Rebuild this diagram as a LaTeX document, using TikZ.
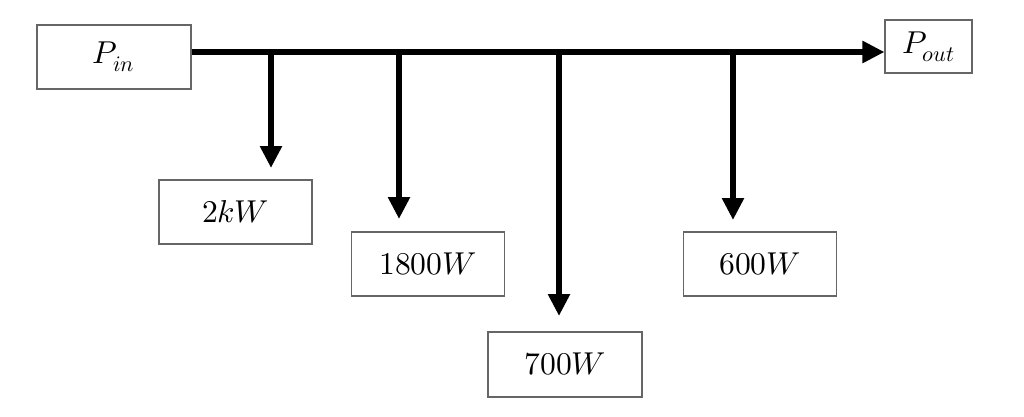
\documentclass[tikz,border=0pt]{standalone}
\usepackage{amsmath,amssymb}
\usepackage{unicode-math}
\setmathfont{Latin Modern Math}
\usetikzlibrary{arrows.meta,positioning,calc}
\definecolor{boxline}{HTML}{666666}
\tikzset{
  loadbox/.style={draw=boxline,line width=0.6pt,fill=white,minimum width=3.06cm,
    minimum height=1.28cm,inner sep=0pt,font=\fontsize{18}{21}\selectfont},
  bus/.style={line width=3.4pt,draw=black},
  flow/.style={bus,-{Triangle[length=0.44cm,width=0.42cm]}},
}

\begin{document}
\begin{tikzpicture}
    \useasboundingbox (0,0) rectangle (20.48,-8.34);

    \node[loadbox,minimum width=3.08cm] (pin) at (2.28,-1.14) {$P_{in}$};
    \node[loadbox,minimum width=1.74cm,minimum height=1.06cm] (pout) at (18.57,-0.93) {$P_{out}$};
    \node[loadbox] (l2k) at (4.71,-4.24) {$2kW$};
    \node[loadbox] (l1800) at (8.56,-5.28) {$1800W$};
    \node[loadbox,minimum width=3.08cm,minimum height=1.30cm] (l700) at (11.30,-7.29) {$700W$};
    \node[loadbox] (l600) at (15.20,-5.28) {$600W$};

    % taps on the main line and ends of the branch arrows
    \coordinate (t1) at (5.42,-1.04);
    \coordinate (t2) at (7.98,-1.04);
    \coordinate (t3) at (11.18,-1.04);
    \coordinate (t4) at (14.66,-1.04);
    \coordinate (e1) at (5.42,-3.36);
    \coordinate (e2) at (7.98,-4.38);
    \coordinate (e3) at (11.18,-6.32);
    \coordinate (e4) at (14.66,-4.40);

    \draw[flow] (pin.east |- t1) -- (pout.west |- t1);
    \draw[flow] ([yshift=1.7pt]t1) -- (e1);
    \draw[flow] ([yshift=1.7pt]t2) -- (e2);
    \draw[flow] ([yshift=1.7pt]t3) -- (e3);
    \draw[flow] ([yshift=1.7pt]t4) -- (e4);
\end{tikzpicture}
\end{document}
